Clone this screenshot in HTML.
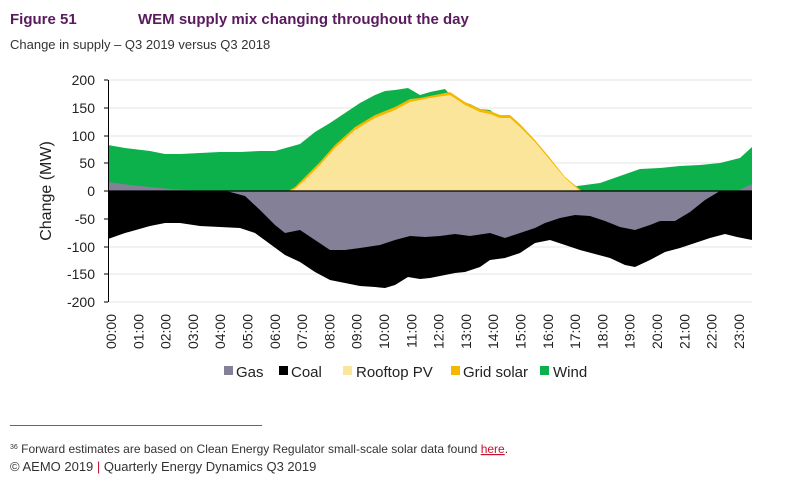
<!DOCTYPE html>
<html><head><meta charset="utf-8"><style>
body{margin:0;background:#fff;width:800px;height:482px;overflow:hidden;font-family:"Liberation Sans",sans-serif}
</style></head><body>
<svg width="800" height="482" xmlns="http://www.w3.org/2000/svg" font-family="Liberation Sans, sans-serif">
<text x="10" y="24" font-size="15" font-weight="bold" fill="#5a1a5e">Figure 51</text>
<text x="138" y="24" font-size="15" font-weight="bold" fill="#5a1a5e">WEM supply mix changing throughout the day</text>
<text x="10" y="49" font-size="13" fill="#333">Change in supply – Q3 2019 versus Q3 2018</text>
<g stroke="#e6e6e6" stroke-width="1">
<line x1="108" x2="752" y1="80" y2="80"/><line x1="108" x2="752" y1="108" y2="108"/><line x1="108" x2="752" y1="136" y2="136"/><line x1="108" x2="752" y1="163" y2="163"/><line x1="108" x2="752" y1="219" y2="219"/><line x1="108" x2="752" y1="247" y2="247"/><line x1="108" x2="752" y1="274" y2="274"/><line x1="108" x2="752" y1="302" y2="302"/>
</g>
<polygon fill="#0db14b" points="108,145 125,148 150,151 165,154 180,154 200,153 220,152 240,152 260,151 275,151 300,144 315,132 330,123 345,113 360,103 375,95 385,91 395,90 408,88 420,95 430,92 445,89 455,100 470,104 480,109 490,110 505,122 520,135 535,152 555,180 570,187 585,185 600,183 620,176 640,169 660,168 680,166 700,165 720,163 740,158 752,147 752,191 108,191"/>
<polygon fill="#f5b800" points="288,191 295,187 305,177 320,162 335,145 355,127 375,115 395,107 410,99 420,98 430,96 450,92 465,102 480,109 490,111 500,115 510,115 520,124 535,140 550,158 565,177 582,191"/>
<polygon fill="#fbe59b" points="290,191 295,189 305,180 320,165 335,148 355,130 375,118 395,110 410,102 420,100 430,98 450,95 465,105 480,112 490,114 500,118 510,118 520,127 535,142 550,160 565,178 580,191"/>
<polygon fill="#848098" points="108,182 130,185 150,187 170,189 200,191 108,191"/>
<polygon fill="#848098" points="737,191 752,184 752,191"/>
<polygon fill="#000" points="108,191 752,191 752,240 737,237 725,234 710,238 695,243 680,248 665,252 650,260 635,267 625,265 610,258 595,254 580,250 565,245 550,240 535,243 520,253 505,258 490,260 480,267 465,272 455,273 445,275 430,278 420,279 408,277 395,285 385,288 375,287 360,286 345,283 330,280 315,272 300,262 285,255 270,244 255,233 240,228 220,227 200,226 180,223 165,223 150,226 125,233 108,239"/>
<polygon fill="#848098" points="225,191 737,191 720,191 705,200 690,212 675,221 660,221 650,225 635,230 620,227 605,221 590,216 575,215 560,218 545,223 535,228 520,233 505,238 490,233 470,236 455,234 440,236 425,237 410,236 395,240 380,245 360,248 345,250 330,250 315,240 300,230 285,233 275,225 260,210 245,196 230,192"/>
<line x1="108" x2="752" y1="191" y2="191" stroke="#000" stroke-width="1.2"/>
<line x1="108.5" x2="108.5" y1="80" y2="302" stroke="#000" stroke-width="1"/>
<g stroke="#000"><line x1="104" x2="108" y1="80" y2="80"/><line x1="104" x2="108" y1="108" y2="108"/><line x1="104" x2="108" y1="136" y2="136"/><line x1="104" x2="108" y1="163" y2="163"/><line x1="104" x2="108" y1="191" y2="191"/><line x1="104" x2="108" y1="219" y2="219"/><line x1="104" x2="108" y1="247" y2="247"/><line x1="104" x2="108" y1="274" y2="274"/><line x1="104" x2="108" y1="302" y2="302"/></g>
<g font-size="14" fill="#222" text-anchor="end">
<text x="95" y="85">200</text><text x="95" y="113">150</text><text x="95" y="141">100</text><text x="95" y="168">50</text><text x="95" y="196">0</text><text x="95" y="224">-50</text><text x="95" y="252">-100</text><text x="95" y="279">-150</text><text x="95" y="307">-200</text>
</g>
<text transform="translate(51,191) rotate(-90)" font-size="16" fill="#222" text-anchor="middle">Change (MW)</text>
<g font-size="14" fill="#222" text-anchor="end">
<text transform="translate(116,314) rotate(-90)">00:00</text><text transform="translate(143.3,314) rotate(-90)">01:00</text><text transform="translate(170.6,314) rotate(-90)">02:00</text><text transform="translate(197.9,314) rotate(-90)">03:00</text><text transform="translate(225.2,314) rotate(-90)">04:00</text><text transform="translate(252.5,314) rotate(-90)">05:00</text><text transform="translate(279.8,314) rotate(-90)">06:00</text><text transform="translate(307.1,314) rotate(-90)">07:00</text><text transform="translate(334.4,314) rotate(-90)">08:00</text><text transform="translate(361.7,314) rotate(-90)">09:00</text><text transform="translate(389,314) rotate(-90)">10:00</text><text transform="translate(416.3,314) rotate(-90)">11:00</text><text transform="translate(443.6,314) rotate(-90)">12:00</text><text transform="translate(470.9,314) rotate(-90)">13:00</text><text transform="translate(498.2,314) rotate(-90)">14:00</text><text transform="translate(525.5,314) rotate(-90)">15:00</text><text transform="translate(552.8,314) rotate(-90)">16:00</text><text transform="translate(580.1,314) rotate(-90)">17:00</text><text transform="translate(607.4,314) rotate(-90)">18:00</text><text transform="translate(634.7,314) rotate(-90)">19:00</text><text transform="translate(662,314) rotate(-90)">20:00</text><text transform="translate(689.3,314) rotate(-90)">21:00</text><text transform="translate(716.6,314) rotate(-90)">22:00</text><text transform="translate(743.9,314) rotate(-90)">23:00</text>
</g>
<g font-size="15" fill="#222">
<rect x="224" y="366" width="9" height="9" fill="#848098"/><text x="236" y="377">Gas</text>
<rect x="279" y="366" width="9" height="9" fill="#000"/><text x="291" y="377">Coal</text>
<rect x="343" y="366" width="9" height="9" fill="#fbe59b"/><text x="356" y="377">Rooftop PV</text>
<rect x="451" y="366" width="9" height="9" fill="#f5b800"/><text x="463" y="377">Grid solar</text>
<rect x="540" y="366" width="9" height="9" fill="#0db14b"/><text x="553" y="377">Wind</text>
</g>
<line x1="10" x2="262" y1="425.5" y2="425.5" stroke="#666" stroke-width="1"/>
<text x="10" y="453" font-size="12" fill="#333"><tspan font-size="7" dy="-4">36</tspan><tspan dy="4"> Forward estimates are based on Clean Energy Regulator small-scale solar data found </tspan><tspan fill="#c8102e" text-decoration="underline">here</tspan>.</text>
<text x="10" y="471" font-size="13" fill="#333">© AEMO 2019 <tspan fill="#c8102e">|</tspan> Quarterly Energy Dynamics Q3 2019</text>
</svg>
</body></html>
